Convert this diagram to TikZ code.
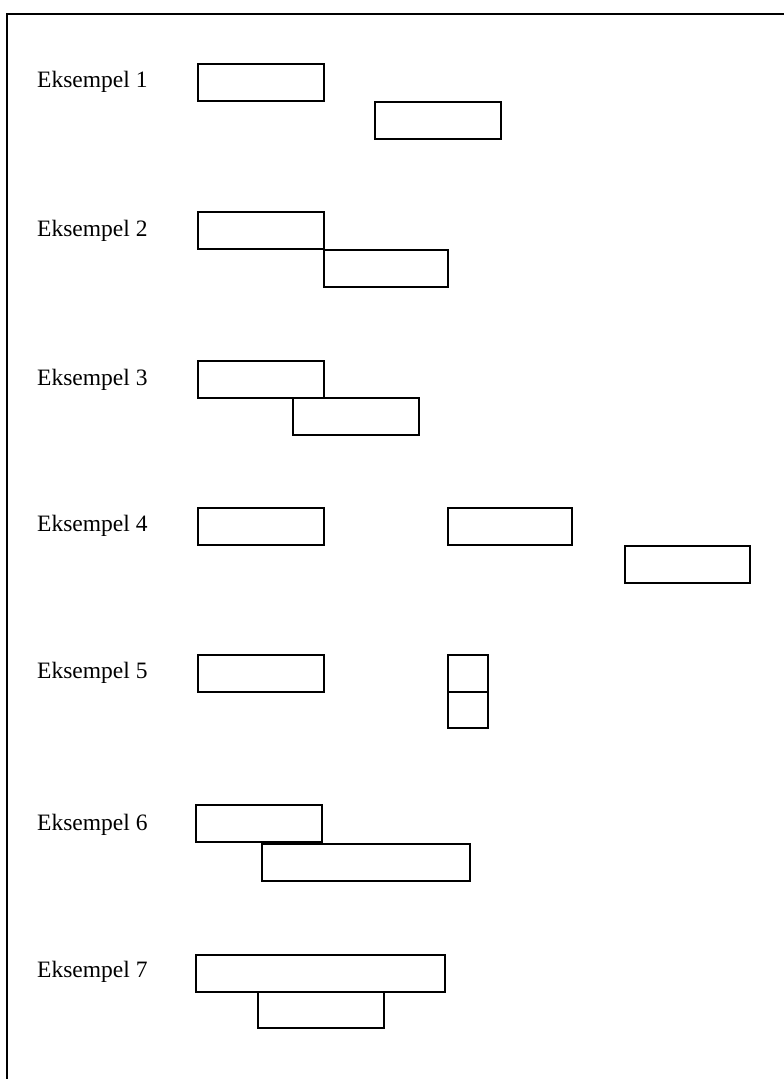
\documentclass[tikz,border=0pt]{standalone}
\usepackage{fontspec}
\setmainfont{Liberation Serif}
\usepackage{tikz}
\usetikzlibrary{positioning}
\tikzset{
  bar/.style={rectangle,draw=black,line width=1.8pt,fill=white,anchor=north west,
              inner sep=0pt,minimum width=126pt,minimum height=37pt},
  sbar/.style={bar,minimum width=40pt},
  lbar/.style={bar,minimum width=208pt},
  xlbar/.style={bar,minimum width=249pt},
  lbl/.style={anchor=west,inner sep=0pt,font=\fontsize{23.5}{26}\selectfont},
  frame/.style={draw=black,line width=1.8pt},
}
\begin{document}
\begin{tikzpicture}[x=1pt,y=-1pt]
  \clip (0,0) rectangle (784,1079);
  \draw[frame] (7,14) rectangle (820,1120);
  % labels
  \node[lbl] (l1) at (37,82) {Eksempel 1};
  \node[lbl] (l2) at (37,231) {Eksempel 2};
  \node[lbl] (l3) at (37,380) {Eksempel 3};
  \node[lbl] (l4) at (37,526) {Eksempel 4};
  \node[lbl] (l5) at (37,673) {Eksempel 5};
  \node[lbl] (l6) at (37,825) {Eksempel 6};
  \node[lbl] (l7) at (37,972) {Eksempel 7};
  % Eksempel 1
  \node[bar] (a1) at (197,63) {};
  \node[bar] (b1) at (374,101) {};
  % Eksempel 2
  \node[bar] (a2) at (197,211) {};
  \node[bar,minimum width=124pt] (b2) at (323,249) {};
  % Eksempel 3
  \node[bar] (a3) at (197,360) {};
  \node[bar] (b3) at (292,397) {};
  % Eksempel 4
  \node[bar] (a4) at (197,507) {};
  \node[bar,minimum width=124pt] (b4) at (447,507) {};
  \node[bar,minimum width=125pt] (c4) at (624,545) {};
  % Eksempel 5
  \node[bar] (a5) at (197,654) {};
  \node[sbar] (b5) at (447,654) {};
  \node[sbar,minimum height=36pt] (c5) at (447,691) {};
  % Eksempel 6
  \node[bar] (a6) at (195,804) {};
  \node[lbar] (b6) at (261,843) {};
  % Eksempel 7
  \node[xlbar] (a7) at (195,954) {};
  \node[bar,minimum height=36pt] (b7) at (257,991) {};
\end{tikzpicture}
\end{document}
